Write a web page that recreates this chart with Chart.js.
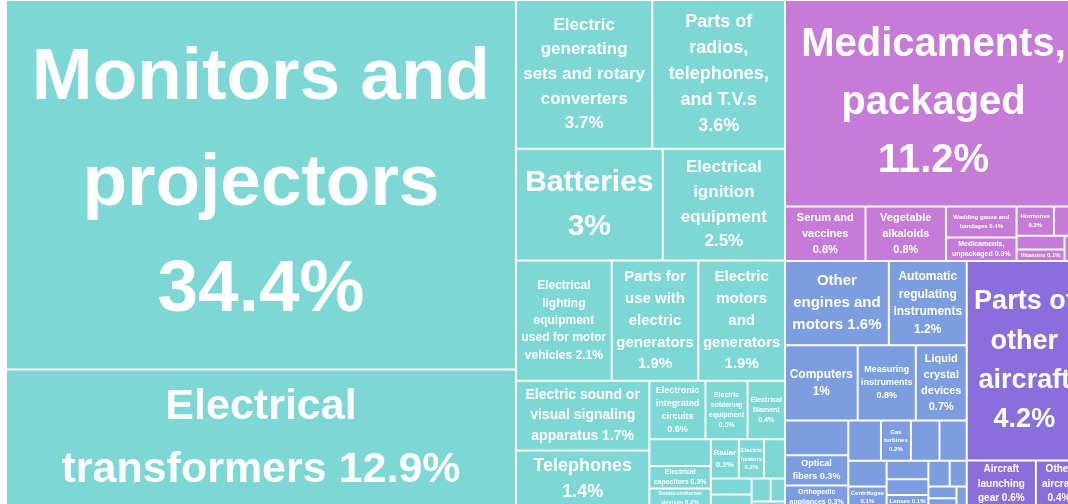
<!DOCTYPE html>
<html>
<head>
<meta charset="utf-8">
<script src="https://cdn.jsdelivr.net/npm/chart.js@4.4.1/dist/chart.umd.min.js"></script>
<style>
  html, body { margin: 0; padding: 0; background: #fff; overflow: hidden; }
  #wrap { width: 1082px; height: 508px; }
</style>
</head>
<body>
<div id="wrap"><canvas id="treemap" width="1082" height="508"></canvas></div>
<script>
// Export shares (% of total)
const machineNames = [
  'Monitors and projectors', 'Electrical transformers',
  'Electric generating sets and rotary converters', 'Parts of radios, telephones, and T.V.s',
  'Batteries', 'Electrical ignition equipment',
  'Electrical lighting equipment used for motor vehicles', 'Parts for use with electric generators',
  'Electric motors and generators', 'Electric sound or visual signaling apparatus', 'Telephones',
  'Electronic integrated circuits', 'Electric soldering equipment', 'Electrical filament',
  'Transmission apparatus for radio, telephone and TV', 'Electrical capacitors', 'Semiconductor devices',
  'Radar', 'Electric heaters', 'Electric resistors', 'Printed circuits', 'Electrical insulators',
  'Electric sound equipment', 'Carbon electrodes', 'Electrical parts of machinery'
];
const machineShares = [34.4, 12.9, 3.7, 3.6, 3.0, 2.5, 2.1, 1.9, 1.9, 1.7, 1.4,
  0.6, 0.45, 0.4, 0.3, 0.25, 0.22, 0.2, 0.18, 0.15, 0.12, 0.1, 0.08, 0.06, 0.04];

const chemicalNames = [
  'Medicaments, packaged', 'Serum and vaccines', 'Vegetable alkaloids', 'Wadding gauze and bandages',
  'Medicaments, unpackaged', 'Hormones', 'Antibiotics', 'Glands and other organs', 'Vitamins',
  'Pharmaceutical goods'
];
const chemicalShares = [11.2, 0.8, 0.8, 0.4, 0.3, 0.2, 0.15, 0.12, 0.1, 0.08];

const instrumentNames = [
  'Other engines and motors', 'Automatic regulating instruments', 'Computers', 'Measuring instruments',
  'Liquid crystal devices', 'Parts and accessories for office machines', 'Optical fibers',
  'Orthopedic appliances', 'Oscilloscopes', 'Gas turbines', 'Medical instruments', 'Thermostats',
  'Hydrometers', 'Centrifuges', 'X-ray equipment', 'Electric meters', 'Lenses', 'Microscopes',
  'Surveying equipment', 'Gas meters', 'Drawing instruments', 'Spectrometers'
];
const instrumentShares = [1.6, 1.2, 1.0, 0.8, 0.7, 0.4, 0.35, 0.26, 0.24, 0.22, 0.21, 0.2,
  0.18, 0.15, 0.14, 0.12, 0.1, 0.1, 0.08, 0.06, 0.05, 0.04];

const transportNames = ['Parts of other aircraft', 'Aircraft launching gear', 'Other aircraft'];
const transportShares = [4.2, 0.6, 0.4];

const groupColors = ['#7dd7d5', '#c77bd9', '#7c9ee0', '#8a6fdc'];

// layout space (stretched onto the chart area by the x/y scales)
const LAYOUT_W = 1549;
const LAYOUT_H = 1000;
const TILE_RATIO = (1 + Math.sqrt(5)) / 2;

// squarified tiling, same rules as d3's treemapSquarify
function squarify(nodes, x0, y0, x1, y1) {
  let value = nodes.reduce((s, n) => s + n.value, 0);
  const n = nodes.length;
  let i0 = 0, i1 = 0;
  while (i0 < n) {
    const dx = x1 - x0, dy = y1 - y0;
    let sumValue = nodes[i1++].value;
    let minValue = sumValue, maxValue = sumValue;
    const alpha = Math.max(dy / dx, dx / dy) / (value * TILE_RATIO);
    let beta = sumValue * sumValue * alpha;
    let minRatio = Math.max(maxValue / beta, beta / minValue);
    for (; i1 < n; ++i1) {
      const v = nodes[i1].value;
      sumValue += v;
      if (v < minValue) minValue = v;
      if (v > maxValue) maxValue = v;
      beta = sumValue * sumValue * alpha;
      const newRatio = Math.max(maxValue / beta, beta / minValue);
      if (newRatio > minRatio) { sumValue -= v; break; }
      minRatio = newRatio;
    }
    const row = nodes.slice(i0, i1);
    if (dx < dy) {
      const yk = i1 < n ? y0 + dy * sumValue / value : y1;
      let x = x0;
      row.forEach((nd, k) => {
        const nx = k === row.length - 1 ? x1 : x + dx * nd.value / sumValue;
        Object.assign(nd, { x0: x, x1: nx, y0: y0, y1: yk });
        x = nx;
      });
      y0 = yk;
    } else {
      const xk = i1 < n ? x0 + dx * sumValue / value : x1;
      let y = y0;
      row.forEach((nd, k) => {
        const ny = k === row.length - 1 ? y1 : y + dy * nd.value / sumValue;
        Object.assign(nd, { x0: x0, x1: xk, y0: y, y1: ny });
        y = ny;
      });
      x0 = xk;
    }
    value -= sumValue;
    i0 = i1;
  }
}

function makeGroup(names, shares, color) {
  const children = names.map((name, i) => ({ name, value: shares[i], color }))
    .sort((a, b) => b.value - a.value);
  return { children, color, value: shares.reduce((s, v) => s + v, 0) };
}

const groups = [
  makeGroup(machineNames, machineShares, groupColors[0]),
  makeGroup(chemicalNames, chemicalShares, groupColors[1]),
  makeGroup(instrumentNames, instrumentShares, groupColors[2]),
  makeGroup(transportNames, transportShares, groupColors[3])
].sort((a, b) => b.value - a.value);

squarify(groups, 0, 0, LAYOUT_W, LAYOUT_H);
const cells = [];
groups.forEach(g => {
  squarify(g.children, g.x0, g.y0, g.x1, g.y1);
  g.children.forEach(c => cells.push(Object.assign(c, { x: (c.x0 + c.x1) / 2, y: (c.y0 + c.y1) / 2 })));
});

// dataset controller: every cell is a bar element placed through the x/y scales
class TreemapController extends Chart.DatasetController {
  update(mode) {
    const meta = this._cachedMeta;
    this.updateElements(meta.data, 0, meta.data.length, mode);
  }
  updateElements(rects, start, count, mode) {
    const { xScale, yScale } = this._cachedMeta;
    const data = this.getDataset().data;
    for (let i = start; i < start + count; i++) {
      const c = data[i];
      const left = xScale.getPixelForValue(c.x0);
      const right = xScale.getPixelForValue(c.x1);
      const top = yScale.getPixelForValue(c.y0);
      const bottom = yScale.getPixelForValue(c.y1);
      this.updateElement(rects[i], i, {
        x: (left + right) / 2,
        y: top,
        base: bottom,
        width: right - left,
        height: bottom - top,
        horizontal: false,
        borderSkipped: { top: false, right: false, bottom: false, left: false },
        inflateAmount: 0,
        enableBorderRadius: false,
        options: this.resolveDataElementOptions(i, mode)
      }, mode);
    }
  }
}
TreemapController.id = 'treemap';
TreemapController.defaults = { datasetElementType: false, dataElementType: 'bar' };
Chart.register(TreemapController);

const LINE_HEIGHT = 1.45;
const FONT = '"Liberation Sans", Arial, sans-serif';

function fmt(v) {
  return (+v.toFixed(1)).toString() + '%';
}

function wrapWords(ctx, words, maxW) {
  const lines = [];
  let cur = '';
  for (const w of words) {
    const test = cur ? cur + ' ' + w : w;
    if (ctx.measureText(test).width <= maxW) { cur = test; continue; }
    if (ctx.measureText(w).width > maxW) return null;
    if (cur) lines.push(cur);
    cur = w;
  }
  if (cur) lines.push(cur);
  return lines;
}

const cellLabels = {
  id: 'cellLabels',
  afterDatasetsDraw(chart) {
    const ctx = chart.ctx;
    const data = chart.data.datasets[0].data;
    chart.getDatasetMeta(0).data.forEach((rect, i) => {
      const { x, y, base, width } = rect.getProps(['x', 'y', 'base', 'width']);
      const h = base - y;
      const aw = width * 0.9, ah = h * 0.92;
      const words = (data[i].name + ' ' + fmt(data[i].value)).split(' ');
      let size = Math.min(80, Math.floor(ah / LINE_HEIGHT));
      let lines = null;
      for (; size >= 6; size--) {
        ctx.font = 'bold ' + size + 'px ' + FONT;
        lines = wrapWords(ctx, words, aw);
        if (lines && lines.length * size * LINE_HEIGHT <= ah) break;
        lines = null;
      }
      if (!lines) return;
      ctx.save();
      ctx.fillStyle = '#ffffff';
      ctx.textAlign = 'center';
      ctx.textBaseline = 'middle';
      const lh = size * LINE_HEIGHT;
      const cy = y + h / 2;
      lines.forEach((ln, k) => {
        ctx.fillText(ln, x, cy + (k - (lines.length - 1) / 2) * lh);
      });
      ctx.restore();
    });
  }
};

new Chart(document.getElementById('treemap'), {
  type: 'treemap',
  data: {
    datasets: [{
      data: cells,
      parsing: false,
      backgroundColor: (ctx) => ctx.raw ? ctx.raw.color : '#ccc',
      borderColor: 'rgba(255,255,255,0.6)',
      borderWidth: 1
    }]
  },
  options: {
    responsive: false,
    animation: false,
    devicePixelRatio: 1,
    events: [],
    layout: { padding: { left: 6, top: 0, right: 0, bottom: 0 } },
    scales: {
      x: { type: 'linear', display: false, min: 0, max: LAYOUT_W },
      y: { type: 'linear', display: false, min: 0, max: LAYOUT_H, reverse: true }
    },
    plugins: { legend: { display: false }, tooltip: { enabled: false } }
  },
  plugins: [cellLabels]
});
</script>
</body>
</html>
